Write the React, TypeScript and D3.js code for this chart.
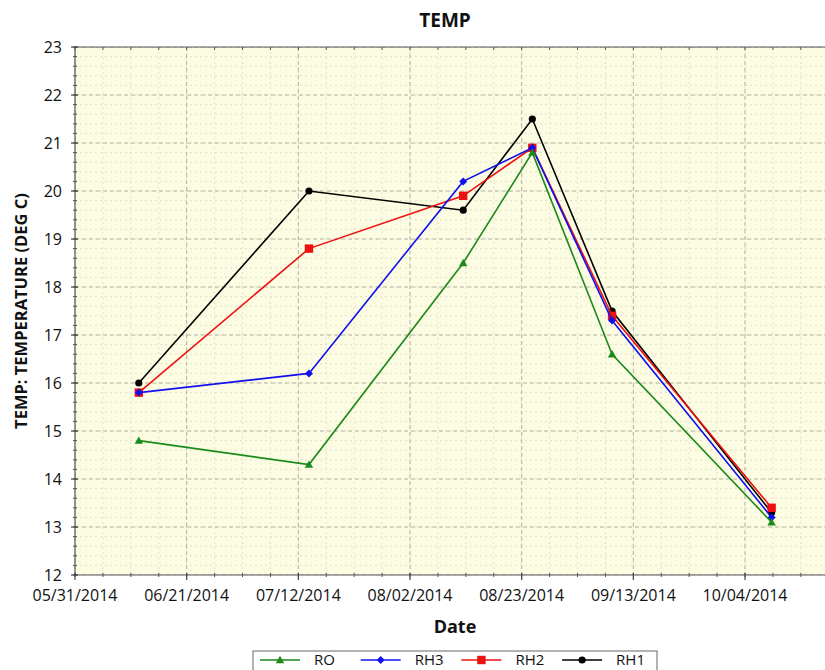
import React from "react";
import * as d3 from "d3";

const dates = ["06/12/2014", "07/14/2014", "08/12/2014", "08/25/2014", "09/09/2014", "10/09/2014"];
const RO = [14.8, 14.3, 18.5, 20.8, 16.6, 13.1];
const RH3 = [15.8, 16.2, 20.2, 20.9, 17.3, 13.2];
const RH2 = [15.8, 18.8, 19.9, 20.9, 17.4, 13.4];
const RH1 = [16.0, 20.0, 19.6, 21.5, 17.5, 13.3];
const seriesNames = ["RO", "RH3", "RH2", "RH1"];
const seriesColors = ["#1a8a1a", "#1010ee", "#ee1010", "#000000"];
const seriesShapes = ["triangle", "diamond", "square", "circle"];
const xTickLabels = ["05/31/2014", "06/21/2014", "07/12/2014", "08/02/2014", "08/23/2014", "09/13/2014", "10/04/2014"];
const yTickValues = [12, 13, 14, 15, 16, 17, 18, 19, 20, 21, 22, 23];

const W = 825, H = 670;
const FONT = "'Open Sans', 'DejaVu Sans', sans-serif";
const parse = d3.timeParse("%m/%d/%Y");
const DAY = 86400000;

function Marker({ shape, x, y, color }: { shape: string; x: number; y: number; color: string }) {
  if (shape === "circle") return <circle cx={x} cy={y} r={3.6} fill={color} />;
  if (shape === "square") return <rect x={x - 4.2} y={y - 4.2} width={8.4} height={8.4} fill={color} />;
  if (shape === "diamond") return <path d={`M${x},${y - 4}L${x + 4},${y}L${x},${y + 4}L${x - 4},${y}Z`} fill={color} />;
  return <path d={`M${x},${y - 4.2}L${x + 4.2},${y + 3.2}L${x - 4.2},${y + 3.2}Z`} fill={color} />;
}

export default function App() {
  const start = parse(xTickLabels[0])!;
  const pxPerDay = 111.67 / 21;
  const endDays = 150;
  const left = 75, top = 47, bottom = 575;
  const x = d3.scaleTime().domain([start, new Date(+start + endDays * DAY)]).range([left, left + endDays * pxPerDay]);
  const y = d3.scaleLinear().domain([12, 23]).range([bottom, top]);
  const right = W + 20;

  const majorX = xTickLabels.map((l) => parse(l)!).concat([new Date(+start + 147 * DAY)]);
  const minorX = d3.range(0, 29).map((i) => new Date(+start + i * 5.25 * DAY)).filter((d) => x(d) < right);
  const minorY = d3.range(12, 23.001, 0.2);

  const allSeries = [RO, RH3, RH2, RH1];
  const xs = dates.map((d) => x(parse(d)!));
  const drawOrder = [3, 2, 1, 0];
  const line = d3.line<[number, number]>().x((d) => d[0]).y((d) => d[1]);

  return (
    <svg width={W} height={H} style={{ position: "absolute", left: 0, top: 0, background: "#fff" }}>
      <defs>
        <clipPath id="plot">
          <rect x={left} y={top} width={right - left} height={bottom - top} />
        </clipPath>
      </defs>
      <rect x={left} y={top} width={right - left} height={bottom - top} fill="#fcfce3" />
      <g clipPath="url(#plot)">
        {minorY.map((v, i) => (
          <line key={"my" + i} x1={left} x2={right} y1={y(v)} y2={y(v)} stroke="#e2e2cc" strokeWidth={1} strokeDasharray="2,3" />
        ))}
        {minorX.map((d, i) => (
          <line key={"mx" + i} x1={x(d)} x2={x(d)} y1={top} y2={bottom} stroke="#e2e2cc" strokeWidth={1} strokeDasharray="2,3" />
        ))}
        {yTickValues.map((v) => (
          <line key={"gy" + v} x1={left} x2={right} y1={y(v)} y2={y(v)} stroke="#b4b4a4" strokeWidth={1} strokeDasharray="4,3" />
        ))}
        {majorX.map((d, i) => (
          <line key={"gx" + i} x1={x(d)} x2={x(d)} y1={top} y2={bottom} stroke="#b4b4a4" strokeWidth={1} strokeDasharray="4,3" />
        ))}
        {drawOrder.map((si) => {
          const pts = allSeries[si].map((v, i) => [xs[i], y(v)] as [number, number]);
          return (
            <g key={"s" + si}>
              <path d={line(pts)!} fill="none" stroke={seriesColors[si]} strokeWidth={1.6} />
              {pts.map((p, i) => (
                <Marker key={i} shape={seriesShapes[si]} x={p[0]} y={p[1]} color={seriesColors[si]} />
              ))}
            </g>
          );
        })}
      </g>
      {/* axes */}
      <line x1={left} x2={right} y1={top} y2={top} stroke="#555" strokeWidth={1.2} />
      <line x1={left} x2={left} y1={top} y2={bottom} stroke="#555" strokeWidth={1.2} />
      <line x1={left} x2={right} y1={bottom} y2={bottom} stroke="#555" strokeWidth={1.2} />
      {minorY.map((v, i) => (
        <line key={"ty" + i} x1={left - 2} x2={left + 2} y1={y(v)} y2={y(v)} stroke="#555" strokeWidth={1} />
      ))}
      {yTickValues.map((v) => (
        <g key={"yt" + v}>
          <line x1={left - 4} x2={left + 3} y1={y(v)} y2={y(v)} stroke="#444" strokeWidth={1.2} />
          <text x={left - 13} y={y(v)} dy="0.36em" textAnchor="end" fontFamily={FONT} fontSize={16} fill="#111">
            {v}
          </text>
        </g>
      ))}
      {minorX.map((d, i) => (
        <g key={"tx" + i}>
          <line x1={x(d)} x2={x(d)} y1={bottom - 2} y2={bottom + 2} stroke="#555" strokeWidth={1} />
          <line x1={x(d)} x2={x(d)} y1={top} y2={top + 3} stroke="#555" strokeWidth={1} />
        </g>
      ))}
      {xTickLabels.map((l) => {
        const px = x(parse(l)!);
        return (
          <g key={"xt" + l}>
            <line x1={px} x2={px} y1={bottom - 2} y2={bottom + 5} stroke="#444" strokeWidth={1.2} />
            <text x={px} y={601} textAnchor="middle" fontFamily={FONT} fontSize={16} fill="#111">
              {l}
            </text>
          </g>
        );
      })}
      <text x={445} y={27} textAnchor="middle" fontFamily={FONT} fontWeight="bold" fontSize={19} fill="#111">
        TEMP
      </text>
      <text x={455} y={633} textAnchor="middle" fontFamily={FONT} fontWeight="bold" fontSize={18} fill="#111">
        Date
      </text>
      <text transform={`translate(27,${(top + bottom) / 2}) rotate(-90)`} textAnchor="middle" fontFamily={FONT} fontWeight="bold" fontSize={16.5} fill="#111">
        TEMP: TEMPERATURE (DEG C)
      </text>
      {/* legend */}
      <rect x={253} y={651} width={404} height={30} fill="#fff" stroke="#666" strokeWidth={1} />
      {seriesNames.map((n, i) => {
        const lx = 260 + i * 100.7;
        return (
          <g key={"lg" + n}>
            <line x1={lx} x2={lx + 40} y1={660} y2={660} stroke={seriesColors[i]} strokeWidth={1.6} />
            <Marker shape={seriesShapes[i]} x={lx + 20} y={660} color={seriesColors[i]} />
            <text x={lx + 54} y={665} fontFamily={FONT} fontSize={15} fill="#111">
              {n}
            </text>
          </g>
        );
      })}
    </svg>
  );
}
